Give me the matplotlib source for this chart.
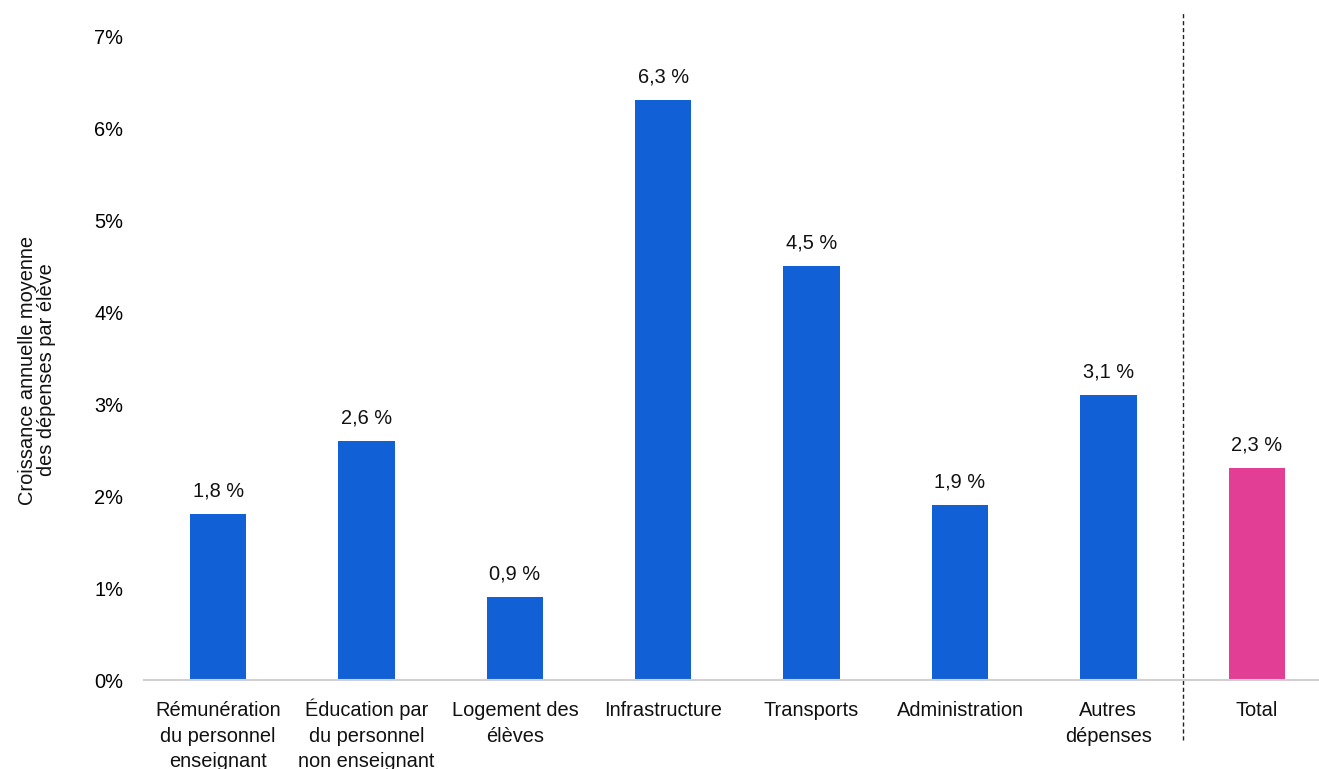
import matplotlib.pyplot as plt
from matplotlib.ticker import FuncFormatter

plt.rcParams['font.family'] = ['Liberation Sans', 'DejaVu Sans']

categories = [
    'Rémunération\ndu personnel\nenseignant',
    'Éducation par\ndu personnel\nnon enseignant',
    'Logement des\nélèves',
    'Infrastructure',
    'Transports',
    'Administration',
    'Autres\ndépenses',
    'Total',
]
growth = [1.8, 2.6, 0.9, 6.3, 4.5, 1.9, 3.1, 2.3]
yticks = [0, 1, 2, 3, 4, 5, 6, 7]

blue = '#1260d6'
pink = '#e33e95'
colors = [blue] * 7 + [pink]
fs = 14.4

fig = plt.figure(figsize=(13.19, 7.69), dpi=100)
ax = fig.add_axes([144 / 1319, 89 / 769, 1175 / 1319, 644 / 769])

x = list(range(len(categories)))
bars = ax.bar(x, growth, width=0.38, color=colors)
for b, v in zip(bars, growth):
    ax.text(b.get_x() + b.get_width() / 2, v + 0.15, f'{v:.1f} %'.replace('.', ','),
            ha='center', va='bottom', fontsize=fs, color='#111111')

ax.set_xlim(-0.5, 7.42)
ax.set_ylim(0, 7)
ax.set_yticks(yticks)
ax.yaxis.set_major_formatter(FuncFormatter(lambda v, _: f'{v:.0f}%'))
ax.tick_params(axis='y', length=0, labelsize=fs, pad=15)

# category labels: one text per line so every first line shares a baseline
ax.set_xticks(x)
ax.set_xticklabels([])
ax.tick_params(axis='x', length=0)
for xi, lab in zip(x, categories):
    for i, line in enumerate(lab.split('\n')):
        ax.annotate(line, (xi, 0), xycoords=('data', 'axes fraction'),
                    xytext=(0, -26 - 18.3 * i), textcoords='offset points',
                    ha='center', va='baseline', fontsize=fs, color='#111111',
                    annotation_clip=False)

for s in ['top', 'right', 'left']:
    ax.spines[s].set_visible(False)
ax.spines['bottom'].set_color('#d0d0d0')
ax.spines['bottom'].set_linewidth(1.5)

# separator before the total bar
ax.plot([6.5, 6.5], [-0.65, 7.25], color='#222222', linestyle=(0, (3, 2)),
        linewidth=1, clip_on=False)

fig.text(37 / 1319, 1 - 370 / 769, 'Croissance annuelle moyenne\ndes dépenses par élève',
         rotation=90, ha='center', va='center', fontsize=fs, linespacing=1.05,
         color='#111111')

fig.savefig('out.png', dpi=100)
